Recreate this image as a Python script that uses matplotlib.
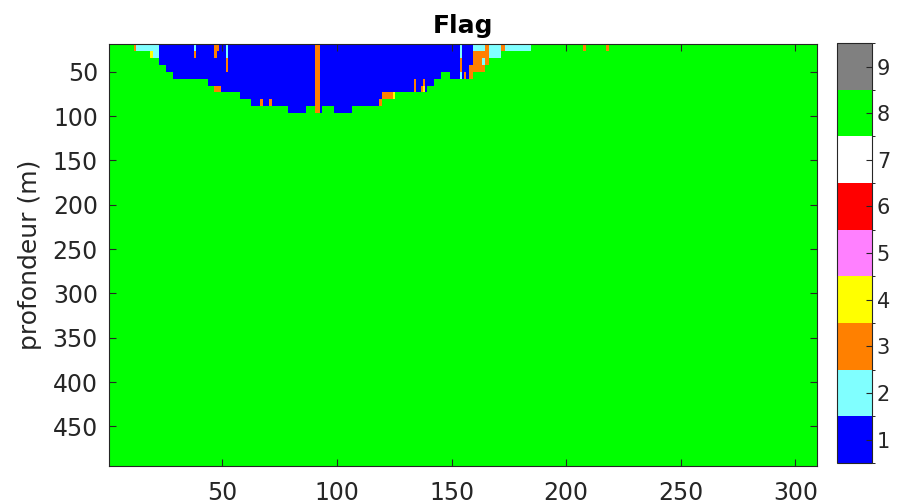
import numpy as np
import matplotlib.pyplot as plt
from matplotlib.colors import ListedColormap, BoundaryNorm

# grid: stations along x, depth bins along y
n_stations = 309
n_depths = 61
depth_top = 18.8
depth_step = 7.8

flag_values = [1, 2, 3, 4, 5, 6, 7, 8, 9]
flag_colors = ['#0000ff', '#80ffff', '#ff8000', '#ffff00', '#ff80ff',
               '#ff0000', '#ffffff', '#00ff00', '#808080']

# runs of stations whose top bins are flagged 1, and how many bins deep
blue_first = [23, 26, 29, 44, 47, 58, 63, 79, 87, 91, 94, 99, 107, 120, 126, 140, 143, 146, 150, 160, 165]
blue_last = [25, 28, 43, 46, 57, 62, 78, 86, 90, 93, 98, 106, 119, 125, 139, 142, 145, 149, 159, 164, 166]
blue_bins = [3, 4, 5, 6, 7, 8, 9, 10, 9, 10, 9, 10, 9, 8, 7, 6, 5, 4, 5, 4, 3]

# isolated patches: first/last station, first/last depth bin, flag
odd_st0 = [12, 13, 19, 20, 38, 38, 47, 47, 52, 52, 47, 67, 71, 91, 119, 120, 125,
           134, 137, 138, 138, 154, 154, 154, 156, 158, 160, 160, 164, 164, 164,
           164, 165, 167, 172, 174, 208, 218]
odd_st1 = [12, 22, 19, 22, 38, 38, 48, 47, 52, 52, 49, 67, 71, 92, 119, 124, 125,
           134, 137, 138, 138, 154, 154, 154, 156, 159, 163, 163, 164, 164, 164,
           164, 166, 171, 173, 184, 208, 218]
odd_b0 = [0, 0, 1, 1, 0, 1, 0, 1, 0, 2, 6, 8, 8, 0, 8, 7, 7,
          5, 6, 5, 6, 0, 2, 4, 4, 3, 0, 1, 0, 1, 2,
          3, 0, 0, 0, 0, 0, 0]
odd_b1 = [0, 0, 1, 1, 0, 1, 0, 1, 1, 3, 6, 8, 8, 9, 8, 7, 7,
          6, 6, 5, 6, 1, 3, 4, 4, 4, 0, 3, 0, 1, 2,
          3, 2, 1, 0, 0, 0, 0]
odd_flag = [3, 2, 4, 2, 2, 3, 3, 3, 2, 3, 3, 3, 3, 3, 3, 3, 4,
            3, 3, 3, 4, 2, 3, 2, 3, 3, 2, 3, 2, 3, 2,
            3, 3, 2, 3, 2, 3, 3]

flag = np.full((n_depths, n_stations), 8)
for a, b, n in zip(blue_first, blue_last, blue_bins):
    flag[:n, a - 1:b] = 1
for a, b, r0, r1, f in zip(odd_st0, odd_st1, odd_b0, odd_b1, odd_flag):
    flag[r0:r1 + 1, a - 1:b] = f

stations = np.arange(1, n_stations + 1)
depth = depth_top + depth_step * (np.arange(n_depths) + 0.5)

cmap = ListedColormap(flag_colors)
norm = BoundaryNorm(np.arange(0.5, 10.5, 1), cmap.N)

dark = '#262626'
plt.rcParams['font.family'] = 'DejaVu Sans'

fig = plt.figure(figsize=(9.06, 5.04), dpi=100)
ax = fig.add_axes([0.1203, 0.0754, 0.7815, 0.8373])
mesh = ax.pcolormesh(stations, depth, flag, cmap=cmap, norm=norm, shading='nearest')
ax.set_xlim(0.5, n_stations + 0.5)
ax.set_ylim(depth_top + depth_step * n_depths, depth_top)
ax.set_xticks([50, 100, 150, 200, 250, 300])
ax.set_yticks([50, 100, 150, 200, 250, 300, 350, 400, 450])
ax.tick_params(direction='in', length=5, width=0.8, colors=dark, labelsize=17,
               top=True, right=True, pad=8)
ax.tick_params(axis='x', pad=11)
for s in ax.spines.values():
    s.set_color(dark)
    s.set_linewidth(0.8)
ax.set_ylabel('profondeur (m)', fontsize=18, color=dark, labelpad=8)
ax.set_title('Flag', fontsize=18, fontweight='bold', pad=8)

cax = fig.add_axes([0.9238, 0.0813, 0.0386, 0.833])
cb = fig.colorbar(mesh, cax=cax, ticks=flag_values)
cb.ax.tick_params(direction='in', length=4, width=0.8, colors=dark, labelsize=15)
cb.outline.set_edgecolor(dark)
cb.outline.set_linewidth(0.8)

fig.savefig('out.png', dpi=100)
